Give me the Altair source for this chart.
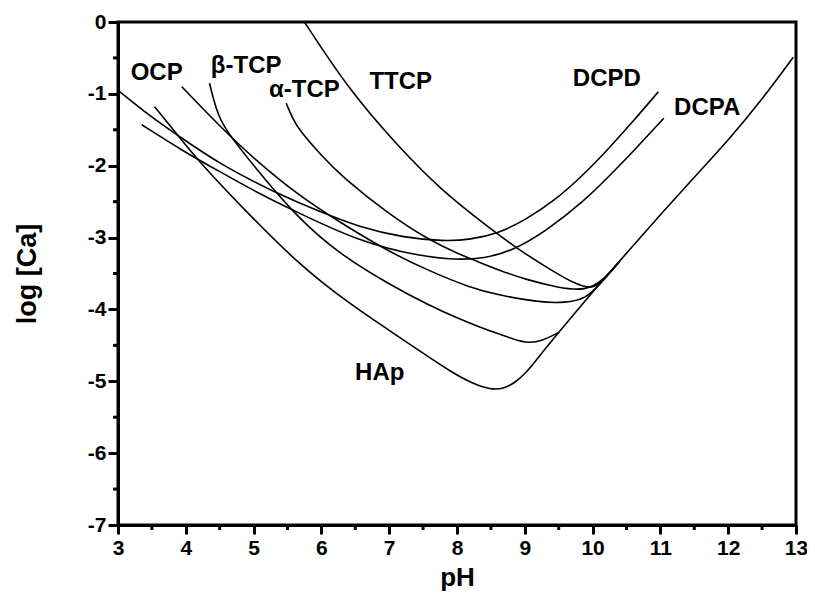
import altair as alt
import pandas as pd

# ---- data (pH, log[Ca]) ----
hap_ph = [3.54, 3.9, 4.25, 4.8, 5.67, 6.41, 7.14, 7.58, 7.9, 8.2, 8.5, 8.7, 8.85, 9.0, 9.15, 9.3, 9.5, 9.9, 10.2, 10.6, 11.0, 11.5, 12.0, 12.5, 12.96]
hap_ca = [-1.18, -1.6, -2.0, -2.55, -3.38, -3.92, -4.38, -4.66, -4.86, -5.02, -5.12, -5.1, -5.02, -4.9, -4.73, -4.55, -4.32, -3.87, -3.54, -3.11, -2.68, -2.16, -1.65, -1.08, -0.49]

btcp_ph = [4.35, 4.4, 4.48, 4.6, 5.0, 5.67, 6.3, 7.0, 7.58, 8.0, 8.32, 8.61, 8.85, 9.05, 9.25, 9.5]
btcp_ca = [-0.85, -1.05, -1.3, -1.52, -2.0, -2.75, -3.25, -3.65, -3.94, -4.12, -4.24, -4.34, -4.42, -4.47, -4.44, -4.32]

ocp_ph = [3.94, 4.5, 5.0, 5.67, 6.26, 7.0, 7.58, 8.2, 8.61, 9.2, 9.6, 9.9, 10.1, 10.4]
ocp_ca = [-0.9, -1.45, -1.9, -2.42, -2.78, -3.2, -3.46, -3.7, -3.8, -3.9, -3.91, -3.85, -3.66, -3.33]

atcp_ph = [5.48, 5.58, 5.67, 6.0, 6.3, 7.0, 7.58, 8.0, 8.32, 8.61, 9.0, 9.5, 9.9, 10.15, 10.4]
atcp_ca = [-1.13, -1.35, -1.5, -1.86, -2.15, -2.68, -3.03, -3.22, -3.34, -3.45, -3.58, -3.7, -3.74, -3.6, -3.33]

ttcp_ph = [5.75, 6.41, 7.14, 7.77, 8.32, 8.86, 9.4, 9.75, 10.0, 10.15, 10.4]
ttcp_ca = [0.0, -0.95, -1.74, -2.34, -2.75, -3.14, -3.46, -3.65, -3.72, -3.6, -3.33]

dcpd_ph = [3.0, 3.5, 3.87, 4.5, 5.33, 6.0, 6.55, 7.2, 7.8, 8.2, 8.61, 9.0, 9.45, 9.85, 10.22, 10.6, 10.97]
dcpd_ca = [-0.95, -1.33, -1.57, -1.98, -2.38, -2.65, -2.85, -3.0, -3.05, -3.03, -2.94, -2.76, -2.48, -2.14, -1.78, -1.38, -0.97]

dcpa_ph = [3.35, 4.0, 4.35, 5.0, 5.67, 6.55, 7.43, 8.0, 8.4, 8.8, 9.3, 9.89, 10.25, 10.62, 11.05]
dcpa_ca = [-1.43, -1.82, -2.0, -2.35, -2.66, -3.05, -3.26, -3.31, -3.29, -3.19, -2.92, -2.48, -2.14, -1.78, -1.34]

label_text = ["OCP", "β-TCP", "α-TCP", "TTCP", "DCPD", "DCPA", "HAp"]
label_ph = [3.57, 4.89, 5.75, 7.17, 10.21, 11.69, 6.86]
label_ca = [-0.71, -0.61, -0.95, -0.83, -0.79, -1.2, -4.88]

x_major = list(range(3, 14))
x_minor = [3.5 + k for k in range(10)]
y_major = list(range(-7, 1))
y_minor = [-6.5 + k for k in range(7)]

series = {
    "HAp": (hap_ph, hap_ca),
    "b-TCP": (btcp_ph, btcp_ca),
    "OCP": (ocp_ph, ocp_ca),
    "a-TCP": (atcp_ph, atcp_ca),
    "TTCP": (ttcp_ph, ttcp_ca),
    "DCPD": (dcpd_ph, dcpd_ca),
    "DCPA": (dcpa_ph, dcpa_ca),
}
rows = []
for name, (xs, ys) in series.items():
    for i, (x, y) in enumerate(zip(xs, ys)):
        rows.append({"name": name, "pH": x, "logCa": y, "i": i})
df = pd.DataFrame(rows)
lab = pd.DataFrame({"text": label_text, "pH": label_ph, "logCa": label_ca})
xminor_df = pd.DataFrame({"pH": x_minor})
yminor_df = pd.DataFrame({"logCa": y_minor})

FONT = "Liberation Sans"
W, H = 678, 503

xscale = alt.Scale(domain=[3, 13], nice=False, zero=False)
yscale = alt.Scale(domain=[-7, 0], nice=False, zero=False)

xaxis = alt.Axis(
    values=x_major, labelExpr="'' + datum.value",
    tickSize=9, tickWidth=3, tickColor="black", domainColor="black", domainWidth=3,
    labelFont=FONT, labelFontSize=21, labelFontWeight="bold", labelColor="black",
    labelPadding=3, labelOverlap=False, labelFlush=False, grid=False,
    title="pH", titleFont=FONT, titleFontSize=26, titleFontWeight="bold", titleColor="black",
    titlePadding=6,
)
yaxis = alt.Axis(
    values=y_major, labelExpr="'' + datum.value",
    tickSize=10, tickWidth=3, tickColor="black", domainColor="black", domainWidth=3,
    labelFont=FONT, labelFontSize=21, labelFontWeight="bold", labelColor="black",
    labelPadding=2, labelOverlap=False, labelFlush=False, grid=False,
    title="log [Ca]", titleFont=FONT, titleFontSize=27, titleFontWeight="bold", titleColor="black",
    titlePadding=46,
)

lines = alt.Chart(df).mark_line(color="black", strokeWidth=1.6, interpolate="basis", clip=True).encode(
    x=alt.X("pH:Q", scale=xscale, axis=xaxis),
    y=alt.Y("logCa:Q", scale=yscale, axis=yaxis),
    detail="name:N",
    order="i:Q",
)

texts = alt.Chart(lab).mark_text(font=FONT, fontSize=24, fontWeight="bold", color="black").encode(
    x=alt.X("pH:Q", scale=xscale),
    y=alt.Y("logCa:Q", scale=yscale),
    text="text:N",
)

xminor = alt.Chart(xminor_df).mark_rule(color="black", strokeWidth=3).encode(
    x=alt.X("pH:Q", scale=xscale),
    y=alt.value(H), y2=alt.value(H + 5),
)
yminor = alt.Chart(yminor_df).mark_rule(color="black", strokeWidth=3).encode(
    y=alt.Y("logCa:Q", scale=yscale),
    x=alt.value(0), x2=alt.value(-5),
)

chart = alt.layer(lines, texts, xminor, yminor).properties(
    width=W, height=H,
    background="white",
    autosize=alt.AutoSizeParams(type="none"),
    padding={"left": 110, "top": 14, "right": 11, "bottom": 68},
).configure_view(stroke="black", strokeWidth=3)

chart.save("out.html", embed_options={"renderer": "svg", "actions": False})
